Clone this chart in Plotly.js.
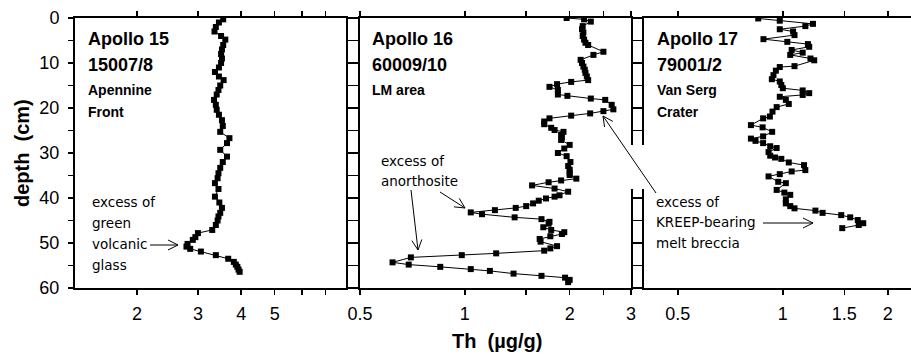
<!DOCTYPE html>
<html>
<head>
<meta charset="utf-8">
<script src="https://cdn.plot.ly/plotly-3.0.1.min.js"></script>
<style>html,body{margin:0;padding:0;background:#fff;}#chart{width:911px;height:355px;}</style>
</head>
<body>
<div id="chart"></div>
<script>
// ---------- DATA ----------
// Apollo 15, core 15007/8 (depth cm, Th ug/g)
const depth15 = [0.3,1,2,3,4,4.8,6,7,8,9,10,11,12,13,13.8,15,16,17,18.2,19.3,20.4,21.5,22.7,24,25.3,26.7,27.8,29.3,30.8,32,33.3,34.5,35.6,36.7,38,39.7,41,42.2,43.3,44.1,45,46,47.1,47.8,48.7,49.3,50.2,50.8,51.3,51.9,52.7,53.5,54.2,54.8,55.3,55.9,56.4];
const th15    = [3.55,3.45,3.38,3.35,3.5,3.6,3.55,3.52,3.5,3.52,3.5,3.45,3.36,3.45,3.56,3.48,3.44,3.40,3.34,3.38,3.40,3.45,3.52,3.54,3.48,3.7,3.64,3.48,3.64,3.54,3.48,3.44,3.42,3.36,3.44,3.36,3.46,3.52,3.48,3.44,3.42,3.38,3.3,3.0,2.95,2.9,2.8,2.78,2.85,3.06,3.38,3.67,3.81,3.86,3.9,3.93,3.96];

// Apollo 16, core 60009/10
const depth16 = [0.0,0.3,0.8,1.8,2.5,3.2,4.0,4.8,5.5,6.0,7.5,8.2,9.3,10.0,10.8,11.5,12.2,13.0,13.8,14.2,14.7,15.3,16.0,17.0,17.3,17.9,18.2,19.3,20.3,20.7,21.2,21.7,22.3,23.0,23.6,24.4,24.9,25.3,26.0,26.6,27.1,28.2,29.0,30.0,30.7,32.0,32.9,33.7,34.4,34.9,35.7,36.1,36.5,37.2,37.9,38.6,39.4,39.7,40.1,40.6,41.2,41.8,42.2,42.7,43.2,43.6,44.3,44.7,45.3,45.7,46.5,47.1,47.6,48.0,48.5,49.1,49.7,50.7,51.2,51.7,52.3,52.7,53.2,54.3,54.8,55.3,55.8,56.2,56.8,57.3,57.7,58.2,58.7];
const th16    = [1.96,2.20,2.30,2.18,2.17,2.19,2.18,2.20,2.22,2.26,2.50,2.34,2.15,2.17,2.19,2.21,2.22,2.24,2.26,2.02,1.84,1.75,1.85,1.85,1.97,2.30,2.53,2.64,2.67,2.50,2.29,2.02,1.75,1.69,1.69,1.77,1.81,1.92,1.89,1.90,1.89,2.00,1.93,1.85,1.96,2.01,1.98,2.00,2.00,2.00,2.09,1.89,1.74,1.56,1.81,1.98,1.87,1.81,1.71,1.63,1.57,1.50,1.40,1.22,1.04,1.12,1.39,1.66,1.75,1.74,1.68,1.77,1.93,1.90,1.76,1.64,1.65,1.84,1.76,1.69,1.23,0.98,0.70,0.62,0.69,0.85,1.04,1.18,1.38,1.66,1.94,2.00,1.98];

// Apollo 17, core 79001/2
const depth17 = [0.1,0.6,1.3,1.8,2.5,3.0,3.8,4.7,5.3,5.8,6.4,7.1,7.7,8.2,9.0,9.4,10.7,10.9,11.7,12.7,13.6,14.1,14.9,15.6,16.1,16.7,17.1,17.5,18.2,19.1,19.8,20.8,21.9,22.3,23.8,24.3,25.3,26.3,26.8,27.3,27.8,28.5,28.9,29.8,30.6,31.0,31.3,32.1,32.7,33.8,34.1,34.7,35.2,36.4,36.7,38.2,38.8,39.3,40.3,41.2,41.8,42.3,42.8,43.3,43.8,44.3,44.9,45.6,46.0,46.7];
const th17    = [0.85,0.98,1.22,1.16,0.98,1.07,1.08,0.88,1.03,1.18,1.19,1.06,1.14,1.05,1.20,1.23,1.08,0.98,0.955,0.94,0.93,0.98,0.99,1.00,1.14,1.19,1.14,0.98,1.02,1.04,0.96,0.934,0.918,0.878,0.81,0.875,0.932,0.878,0.81,0.835,0.878,0.92,0.96,0.91,0.92,0.95,0.99,1.04,1.15,1.16,1.06,0.98,0.91,0.97,1.02,0.96,1.01,1.05,1.02,1.02,1.05,1.08,1.24,1.30,1.47,1.56,1.64,1.70,1.65,1.48];

// tick labels
const depthTicks = [0,5,10,15,20,25,30,35,40,45,50,55,60];
const depthText  = ['0','','10','','20','','30','','40','','50','','60'];
const xTicks1 = [2,3,4,5,6,7];          const xText1 = ['2','3','4','5','',''];
const xTicks2 = [0.5,1,1.5,2,2.5,3];    const xText2 = ['0.5','1','','2','','3'];
const xTicks3 = [0.5,1,1.5,2];          const xText3 = ['0.5','1','1.5','2'];

// ---------- STYLE / LAYOUT ----------
const FONT = 'Liberation Sans, Arial, sans-serif';
const HAND = 'DejaVu Sans, sans-serif';
const W = 911, H = 355, ML = 75, MR = 0, MT = 18, MB = 67;
const PW = W - ML - MR, PH = H - MT - MB;
function px(x){ return (x - ML) / PW; }
function py(y){ return 1 - (y - MT) / PH; }

function trace(x, y, xa, ya){
  return {x: x, y: y, xaxis: xa, yaxis: ya, type: 'scatter', mode: 'lines+markers',
    line: {color: '#000', width: 1}, marker: {symbol: 'square', size: 6, color: '#000'},
    hoverinfo: 'skip'};
}
const data = [trace(th15, depth15, 'x', 'y'), trace(th16, depth16, 'x2', 'y2'), trace(th17, depth17, 'x3', 'y3')];

function xax(dom, rng, tv, tt, anchor){
  return {type: 'log', domain: dom, range: rng, tickvals: tv, ticktext: tt, ticks: 'outside',
    ticklen: 5, tickwidth: 1.5, tickcolor: '#000', showline: true, linewidth: 2, linecolor: '#000',
    mirror: 'ticks', showgrid: false, zeroline: false, anchor: anchor,
    tickfont: {family: FONT, size: 18, color: '#000'}, ticklabelstandoff: 3, fixedrange: true};
}
function yax(anchor, labels, mirror){
  return {range: [60, 0], domain: [0, 1], tickvals: depthTicks, ticktext: depthText, ticks: 'outside',
    ticklen: 5, tickwidth: 1.5, tickcolor: '#000', showline: true, linewidth: 2, linecolor: '#000',
    mirror: mirror, showgrid: false, zeroline: false, anchor: anchor, showticklabels: labels,
    tickfont: {family: FONT, size: 18, color: '#000'}, ticklabelstandoff: 5, fixedrange: true};
}

const annotations = [];
function label(text, x, yPix, size, bold, fam){
  annotations.push({text: text, xref: 'paper', yref: 'paper', x: px(x), y: py(yPix),
    xanchor: 'left', yanchor: 'middle', showarrow: false,
    font: {family: fam || FONT, size: size, color: '#000', weight: bold ? 'bold' : 'normal'}});
}
// panel labels
label('Apollo 15', 86, 38.5, 18, true); label('15007/8', 86, 64.5, 18, true);
label('Apennine', 86, 90, 14, true);    label('Front', 86, 111.5, 14, true);
label('Apollo 16', 370, 38.5, 18, true); label('60009/10', 370, 64.5, 18, true);
label('LM area', 370, 90, 14, true);
label('Apollo 17', 655, 38.5, 18, true); label('79001/2', 655, 64.5, 18, true);
label('Van Serg', 655, 90, 14, true);    label('Crater', 655, 111.5, 14, true);
// hand-written notes
label('excess of', 90, 202, 13.5, false, HAND); label('green', 90, 223, 13.5, false, HAND);
label('volcanic', 90, 244, 13.5, false, HAND);  label('glass', 90, 265, 13.5, false, HAND);
label('excess of', 379, 161, 13.5, false, HAND); label('anorthosite', 379, 181, 13.5, false, HAND);
label('excess of', 654, 202, 13.5, false, HAND); label('KREEP-bearing', 654, 222, 13.5, false, HAND);
label('melt breccia', 654, 243, 13.5, false, HAND);
// axis titles
annotations.push({text: 'Th  (µg/g)', xref: 'paper', yref: 'paper', x: px(497), y: py(341),
  xanchor: 'center', yanchor: 'middle', showarrow: false,
  font: {family: FONT, size: 20, color: '#000', weight: 'bold'}});
annotations.push({text: 'depth  (cm)', xref: 'paper', yref: 'paper', x: px(22), y: py(153),
  xanchor: 'center', yanchor: 'middle', textangle: -90, showarrow: false,
  font: {family: FONT, size: 20, color: '#000', weight: 'bold'}});

const shapes = [];
// gap in the axis lines between panels 2 and 3
shapes.push({type: 'rect', xref: 'paper', yref: 'paper', x0: px(626), x1: px(649), y0: py(145), y1: py(189),
  fillcolor: '#fff', line: {width: 0}, layer: 'above'});
function arrow(x0, y0, x1, y1){
  const dx = x1 - x0, dy = y1 - y0, L = Math.hypot(dx, dy);
  const ux = dx / L, uy = dy / L, nx = -uy, ny = ux, hl = 10, hw = 5;
  const ax = x1 - hl * ux + hw * nx, ay = y1 - hl * uy + hw * ny;
  const bx = x1 - hl * ux - hw * nx, by = y1 - hl * uy - hw * ny;
  shapes.push({type: 'line', xref: 'paper', yref: 'paper', x0: px(x0), y0: py(y0), x1: px(x1), y1: py(y1),
    line: {color: '#000', width: 1}, layer: 'above'});
  shapes.push({type: 'path', xref: 'paper', yref: 'paper',
    path: 'M' + px(ax) + ',' + py(ay) + 'L' + px(x1) + ',' + py(y1) + 'L' + px(bx) + ',' + py(by),
    line: {color: '#000', width: 1}, layer: 'above'});
}
arrow(150, 245, 178, 245);
arrow(440, 192, 465, 208);
arrow(411, 190, 418, 250);
arrow(763, 223, 813, 223);
arrow(656, 193, 603, 116);

const layout = {
  width: W, height: H, margin: {l: ML, r: MR, t: MT, b: MB, pad: 0},
  paper_bgcolor: '#fff', plot_bgcolor: 'rgba(0,0,0,0)', showlegend: false,
  xaxis:  xax([0, px(346)], [0.122, 0.905], xTicks1, xText1, 'y'),
  xaxis2: xax([px(360), px(631)], [Math.log10(0.5), Math.log10(3)], xTicks2, xText2, 'y2'),
  xaxis3: xax([px(644), 1], [Math.log10(0.4), Math.log10(2.33)], xTicks3, xText3, 'y3'),
  yaxis:  yax('x', true, 'ticks'),
  yaxis2: yax('x2', false, 'ticks'),
  yaxis3: yax('x3', false, false),
  annotations: annotations, shapes: shapes
};
Plotly.newPlot('chart', data, layout, {displayModeBar: false, staticPlot: true});
</script>
</body>
</html>
